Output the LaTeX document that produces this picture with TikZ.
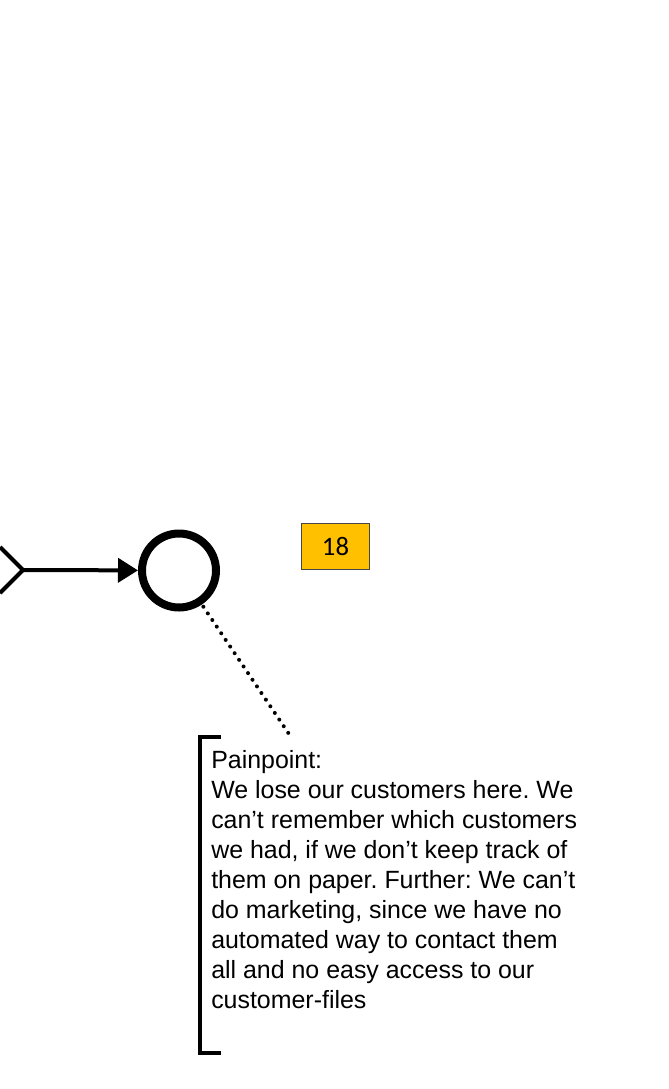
\documentclass[tikz,border=0pt]{standalone}
\usepackage{fontspec}
\setmainfont{Liberation Sans}
\newfontfamily\calibrifont{Carlito}
\usetikzlibrary{arrows.meta, positioning}
\definecolor{taskorange}{RGB}{255, 192, 0}
\definecolor{boxgray}{RGB}{70, 70, 70}
\frenchspacing

\begin{document}
\begin{tikzpicture}[x=0.75pt, y=-0.75pt,
  flow/.style={line width=3pt, -{Triangle[length=15pt, width=18pt]}},
  endevent/.style={circle, draw, line width=6pt, minimum size=55.5pt, inner sep=0pt},
  numbox/.style={draw=boxgray, line width=0.6pt, fill=taskorange, minimum width=51pt, minimum height=35pt, inner sep=0pt, font=\calibrifont\fontsize{20}{22}\selectfont},
  assoc/.style={line width=3pt, line cap=round, dash pattern=on 0pt off 6pt, shorten <=2pt},
  bracket/.style={line width=2.8pt},
  notetext/.style={align=left, inner sep=0pt, font=\fontsize{18.7}{22.5}\selectfont}]
  \useasboundingbox (0,0) rectangle (668,1089);

  % Gateway corner and end event
  \coordinate (gw) at (23,570);
  \draw[line width=3pt] (0,547) -- (gw) -- (0,593);
  \node[endevent] (end) at (179,570.5) {};
  \draw[flow] (gw) -- (end);

  % Number tag
  \node[numbox] (num) at (335.5,546.5) {18};

  % Text annotation
  \coordinate (noteTop) at (291,737);
  \draw[bracket] (221,737) -- (200,737) -- (200,1053) -- (221,1053);
  \node[notetext, anchor=base west] (note) at (211,1008) {
    Painpoint:\\
    We lose our customers here. We\\
    can't remember which customers\\
    we had, if we don't keep track of\\
    them on paper. Further: We can't\\
    do marketing, since we have no\\
    automated way to contact them\\
    all and no easy access to our\\
    customer-files
  };
  \draw[assoc] (end) -- (noteTop);
\end{tikzpicture}
\end{document}
